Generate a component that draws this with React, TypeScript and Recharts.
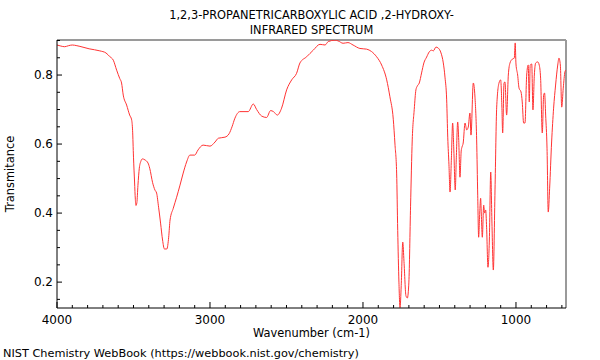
import React from 'react';
import { LineChart, Line, XAxis, YAxis, ReferenceLine } from 'recharts';

const wavenumbers = [
  4000, 3975, 3950, 3925, 3900, 3870, 3850, 3790, 3720, 3680, 3654, 3632, 3610, 3590, 3578, 3567,
  3545, 3525, 3512, 3506, 3500, 3493, 3488, 3484, 3478, 3471, 3462, 3452, 3442, 3425, 3405, 3394,
  3375, 3360, 3349, 3336, 3323, 3310, 3298, 3282, 3270, 3261, 3240, 3218, 3196, 3175, 3153, 3131,
  3100, 3078, 3045, 3000, 2967, 2945, 2902, 2875, 2856, 2837, 2805, 2750, 2717, 2695, 2662, 2630,
  2604, 2585, 2560, 2532, 2499, 2466, 2434, 2412, 2368, 2325, 2281, 2248, 2227, 2183, 2163, 2130,
  2098, 2065, 2020, 1976, 1944, 1911, 1878, 1845, 1824, 1802, 1791, 1780, 1773, 1765, 1758, 1750,
  1740, 1732, 1719, 1710, 1700, 1689, 1678, 1665, 1654, 1645, 1632, 1617, 1602, 1584, 1567, 1551,
  1540, 1523, 1508, 1490, 1475, 1464, 1453, 1446, 1438, 1431, 1422, 1414, 1406, 1397, 1390, 1381,
  1374, 1366, 1358, 1353, 1345, 1333, 1322, 1312, 1301, 1294, 1279, 1268, 1257, 1250, 1244, 1237,
  1231, 1226, 1220, 1211, 1205, 1198, 1192, 1183, 1174, 1165, 1157, 1148, 1137, 1126, 1111, 1100,
  1092, 1087, 1078, 1072, 1061, 1050, 1039, 1024, 1011, 1005, 1000, 989, 980, 967, 959, 950,
  941, 930, 920, 913, 907, 897, 889, 880, 871, 858, 848, 839, 828, 819, 813, 806,
  797, 789, 780, 767, 754, 741, 727, 719, 710, 701, 691, 680, 673,
];

const transmittance = [
  0.887, 0.884, 0.882, 0.885, 0.887, 0.885, 0.883, 0.876, 0.870, 0.864, 0.853, 0.843, 0.814, 0.790, 0.777, 0.742,
  0.713, 0.684, 0.670, 0.640, 0.562, 0.490, 0.440, 0.422, 0.430, 0.480, 0.530, 0.550, 0.557, 0.554, 0.545, 0.530,
  0.488, 0.467, 0.458, 0.417, 0.371, 0.322, 0.296, 0.296, 0.330, 0.380, 0.414, 0.446, 0.481, 0.516, 0.548, 0.568,
  0.568, 0.583, 0.597, 0.594, 0.606, 0.617, 0.620, 0.630, 0.650, 0.675, 0.694, 0.694, 0.716, 0.700, 0.681, 0.677,
  0.697, 0.694, 0.684, 0.704, 0.757, 0.786, 0.805, 0.835, 0.853, 0.872, 0.889, 0.887, 0.897, 0.901, 0.899, 0.892,
  0.894, 0.887, 0.877, 0.875, 0.868, 0.853, 0.829, 0.786, 0.737, 0.672, 0.600, 0.516, 0.350, 0.200, 0.126, 0.190,
  0.316, 0.260, 0.160, 0.154, 0.200, 0.420, 0.612, 0.700, 0.757, 0.768, 0.777, 0.806, 0.835, 0.852, 0.867, 0.872,
  0.870, 0.881, 0.878, 0.864, 0.835, 0.794, 0.728, 0.620, 0.540, 0.461, 0.560, 0.661, 0.580, 0.467, 0.560, 0.664,
  0.610, 0.504, 0.580, 0.591, 0.603, 0.661, 0.641, 0.649, 0.690, 0.626, 0.777, 0.736, 0.612, 0.450, 0.330, 0.400,
  0.443, 0.390, 0.330, 0.423, 0.400, 0.409, 0.359, 0.243, 0.322, 0.519, 0.371, 0.235, 0.467, 0.707, 0.777, 0.786,
  0.707, 0.632, 0.777, 0.780, 0.684, 0.800, 0.835, 0.846, 0.849, 0.893, 0.832, 0.800, 0.762, 0.751, 0.722, 0.661,
  0.661, 0.800, 0.829, 0.722, 0.829, 0.832, 0.699, 0.800, 0.835, 0.838, 0.829, 0.791, 0.632, 0.742, 0.748, 0.684,
  0.588, 0.403, 0.472, 0.606, 0.704, 0.771, 0.829, 0.849, 0.829, 0.707, 0.762, 0.809, 0.815,
];

const xTicks = [
  700, 800, 900, 1000, 1100, 1200, 1300, 1400, 1500, 1600, 1700, 1800, 1900, 2000, 2100, 2200, 2300,
  2400, 2500, 2600, 2700, 2800, 2900, 3000, 3100, 3200, 3300, 3400, 3500, 3600, 3700, 3800, 3900, 4000,
];
const xLabeled = [1000, 2000, 3000, 4000];
const yTicks = [0.15, 0.2, 0.25, 0.3, 0.35, 0.4, 0.45, 0.5, 0.55, 0.6, 0.65, 0.7, 0.75, 0.8, 0.85, 0.9];
const yLabeled = [0.2, 0.4, 0.6, 0.8];

const xDomain = [673, 4000];
const yDomain = [0.125, 0.9015];

const titleLine1 = '1,2,3-PROPANETRICARBOXYLIC ACID ,2-HYDROXY-';
const titleLine2 = 'INFRARED SPECTRUM';
const xTitle = 'Wavenumber (cm-1)';
const yTitle = 'Transmitance';
const footer = 'NIST Chemistry WebBook (https://webbook.nist.gov/chemistry)';

const data = wavenumbers.map((w, i) => ({ w, t: transmittance[i] }));

const FONT = 'DejaVu Sans';

const XTick = (props: any) => {
  const { x, y, payload } = props;
  const v = payload.value;
  const major = xLabeled.includes(v);
  return (
    <g>
      <line x1={x} x2={x} y1={y} y2={y - (major ? 6 : 3)} stroke="#000" strokeWidth={1} />
      {major && (
        <text x={x} y={y + 16} textAnchor="middle" fontFamily={FONT} fontSize={12} fill="#000">
          {String(v)}
        </text>
      )}
    </g>
  );
};

const YTick = (props: any) => {
  const { x, y, payload } = props;
  const v = Math.round(payload.value * 100) / 100;
  const major = yLabeled.some((m) => Math.abs(m - v) < 1e-6);
  return (
    <g>
      <line x1={x} x2={x + (major ? 5 : 3)} y1={y} y2={y} stroke="#000" strokeWidth={1} />
      {major && (
        <text x={x - 4} y={y + 4} textAnchor="end" fontFamily={FONT} fontSize={12} fill="#000">
          {v.toFixed(1)}
        </text>
      )}
    </g>
  );
};

export default function App() {
  return (
    <div style={{ position: 'absolute', left: 0, top: 0, width: 600, height: 360, background: '#fff' }}>
      <LineChart width={600} height={360} data={data} margin={{ top: 40, right: 34, left: 0, bottom: 0 }}>
        <XAxis
          dataKey="w"
          type="number"
          domain={xDomain}
          reversed
          ticks={xTicks}
          interval={0}
          tick={<XTick />}
          tickLine={false}
          tickSize={0}
          tickMargin={0}
          height={52}
          axisLine={{ stroke: '#000', strokeWidth: 1 }}
          allowDataOverflow
        />
        <YAxis
          type="number"
          domain={yDomain}
          ticks={yTicks}
          interval={0}
          tick={<YTick />}
          tickLine={false}
          tickSize={0}
          tickMargin={0}
          width={57}
          axisLine={{ stroke: '#000', strokeWidth: 1 }}
          allowDataOverflow
        />
        <ReferenceLine y={yDomain[1]} stroke="#9a9a9a" strokeWidth={2} />
        <ReferenceLine x={xDomain[0]} stroke="#9a9a9a" strokeWidth={2} />
        <Line
          dataKey="t"
          type="monotone"
          stroke="#ff3333"
          strokeWidth={1}
          dot={false}
          isAnimationActive={false}
        />
      </LineChart>
      <svg
        width={600}
        height={360}
        style={{ position: 'absolute', left: 0, top: 0, pointerEvents: 'none' }}
      >
        <text x={311.5} y={19} textAnchor="middle" fontFamily={FONT} fontSize={11.4} fill="#000">
          {titleLine1}
        </text>
        <text x={311.5} y={34} textAnchor="middle" fontFamily={FONT} fontSize={11.4} fill="#000">
          {titleLine2}
        </text>
        <text x={311.5} y={337} textAnchor="middle" fontFamily={FONT} fontSize={11.4} fill="#000">
          {xTitle}
        </text>
        <text
          x={14}
          y={174}
          textAnchor="middle"
          fontFamily={FONT}
          fontSize={11.4}
          fill="#000"
          transform="rotate(-90 14 174)"
        >
          {yTitle}
        </text>
        <text x={3} y={357} fontFamily={FONT} fontSize={11.3} fill="#000">
          {footer}
        </text>
      </svg>
    </div>
  );
}
